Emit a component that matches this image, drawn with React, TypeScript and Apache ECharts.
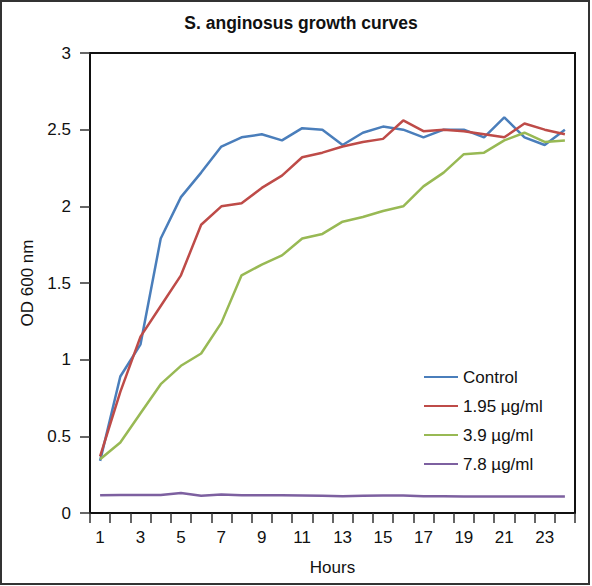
import React, { useEffect, useRef } from "react";
import * as echarts from "echarts";

const hours = ["1","2","3","4","5","6","7","8","9","10","11","12","13","14","15","16","17","18","19","20","21","22","23","24"];
const control = [0.34,0.89,1.10,1.79,2.06,2.22,2.39,2.45,2.47,2.43,2.51,2.50,2.40,2.48,2.52,2.50,2.45,2.50,2.50,2.45,2.58,2.45,2.40,2.50];
const dose195 = [0.37,0.79,1.15,1.35,1.55,1.88,2.00,2.02,2.12,2.20,2.32,2.35,2.39,2.42,2.44,2.56,2.49,2.50,2.49,2.47,2.45,2.54,2.50,2.47];
const dose39 = [0.35,0.46,0.65,0.84,0.96,1.04,1.24,1.55,1.62,1.68,1.79,1.82,1.90,1.93,1.97,2.00,2.13,2.22,2.34,2.35,2.43,2.48,2.42,2.43];
const dose78 = [0.115,0.118,0.118,0.118,0.13,0.113,0.12,0.116,0.116,0.115,0.114,0.113,0.11,0.112,0.114,0.114,0.11,0.11,0.108,0.108,0.108,0.108,0.108,0.108];
const seriesNames = ["Control", "1.95 µg/ml", "3.9 µg/ml", "7.8 µg/ml"];
const colors = ["#4a7ebb", "#be4b48", "#98b954", "#7d60a0"];

const FONT = "'Liberation Sans', Arial, Helvetica, sans-serif";

export default function App() {
  const ref = useRef<HTMLDivElement>(null);
  useEffect(() => {
    if (!ref.current) return;
    const chart = echarts.init(ref.current, undefined, { renderer: "svg" });
    const data = [control, dose195, dose39, dose78];
    chart.setOption({
      animation: false,
      backgroundColor: "#ffffff",
      title: {
        text: "S. anginosus growth curves",
        left: 296,
        textAlign: "center",
        top: 9,
        textStyle: { fontFamily: FONT, fontSize: 17.5, fontWeight: "bold", color: "#111" },
      },
      grid: {
        left: 90,
        top: 53,
        right: 17,
        bottom: 73,
        show: true,
        borderColor: "#111",
        borderWidth: 2,
        backgroundColor: "transparent",
      },
      legend: {
        orient: "vertical",
        left: 419,
        top: 362,
        itemWidth: 34,
        itemHeight: 14,
        itemGap: 9,
        icon: "path://M0,6 L34,6 L34,8 L0,8 Z",
        textStyle: { fontFamily: FONT, fontSize: 17, color: "#111", lineHeight: 20 },
        data: seriesNames,
      },
      xAxis: {
        type: "category",
        data: hours,
        boundaryGap: true,
        name: "Hours",
        nameLocation: "middle",
        nameGap: 46,
        nameTextStyle: { fontFamily: FONT, fontSize: 17, color: "#111" },
        axisLine: { lineStyle: { color: "#111", width: 2 } },
        axisTick: { show: true, interval: 0, length: 10, lineStyle: { color: "#333", width: 1.5 } },
        axisLabel: { interval: 1, margin: 16, fontFamily: FONT, fontSize: 17, color: "#111" },
        splitLine: { show: false },
      },
      yAxis: {
        type: "value",
        min: 0,
        max: 3,
        interval: 0.5,
        name: "OD 600 nm",
        nameLocation: "middle",
        nameGap: 42,
        nameRotate: 90,
        nameTextStyle: { fontFamily: FONT, fontSize: 17, color: "#111" },
        axisLine: { show: true, lineStyle: { color: "#111", width: 2 } },
        axisTick: { show: true, length: 10, lineStyle: { color: "#333", width: 1.5 } },
        axisLabel: { margin: 19, fontFamily: FONT, fontSize: 17, color: "#111" },
        splitLine: { show: false },
      },
      series: data.map((d, i) => ({
        name: seriesNames[i],
        type: "line",
        data: d,
        symbol: "none",
        lineStyle: { color: colors[i], width: 2.5 },
        itemStyle: { color: colors[i] },
      })),
      graphic: [
        {
          type: "rect",
          shape: { x: 1, y: 1, width: 588, height: 583 },
          style: { fill: "none", stroke: "#333", lineWidth: 2 },
          silent: true,
          z: 100,
        },
      ],
    });
    return () => chart.dispose();
  }, []);
  return (
    <div
      ref={ref}
      style={{ position: "fixed", left: 0, top: 0, width: 592, height: 586 }}
    />
  );
}
